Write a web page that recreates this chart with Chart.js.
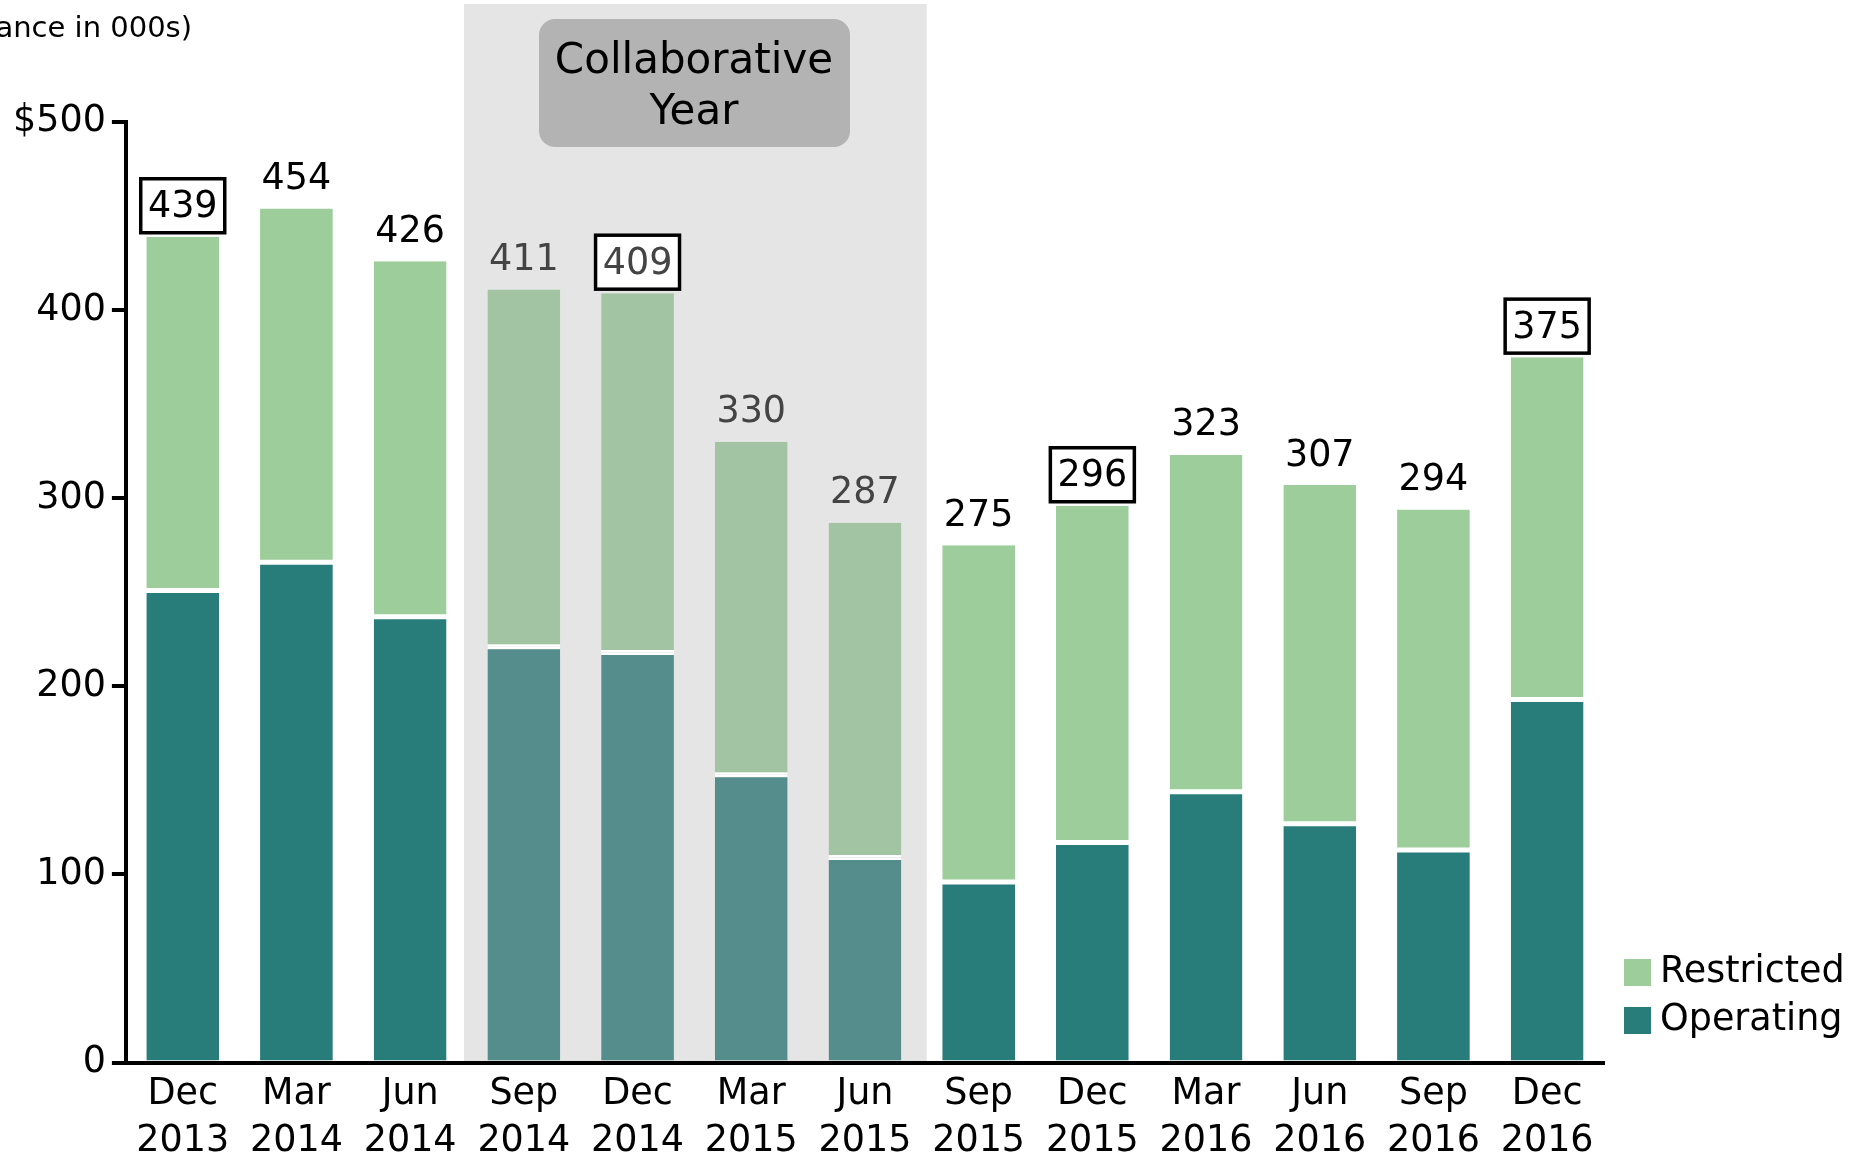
<!DOCTYPE html>
<html>
<head>
<meta charset="utf-8">
<title>Balance by quarter</title>
<script src="https://cdn.jsdelivr.net/npm/chart.js@4"></script>
<style>
  html, body { margin:0; padding:0; background:#fff; }
  #wrap { position:relative; width:1851px; height:1154px; }
</style>
</head>
<body>
<div id="wrap"><canvas id="chart" width="1851" height="1154"></canvas></div>
<script>
// ---- data (000s) ----
const quarters   = [['Dec','2013'],['Mar','2014'],['Jun','2014'],['Sep','2014'],['Dec','2014'],['Mar','2015'],
                    ['Jun','2015'],['Sep','2015'],['Dec','2015'],['Mar','2016'],['Jun','2016'],['Sep','2016'],['Dec','2016']];
const operating  = [251, 266, 237, 221, 218, 153, 109,  96, 117, 144, 127, 113, 193];
const restricted = [188, 188, 189, 190, 191, 177, 178, 179, 179, 179, 180, 181, 182];
const totals     = [439, 454, 426, 411, 409, 330, 287, 275, 296, 323, 307, 294, 375];
const boxedIdx   = [0, 4, 8, 12];
const collabIdx  = [3, 4, 5, 6];
const yTicks     = [0, 100, 200, 300, 400, 500];

const FONT = 'DejaVu Sans';
const FS = 36.5;
const COLORS = {
  operating:'#287d7b', restricted:'#9ccd9a',
  operatingFaded:'#548d8c', restrictedFaded:'#a3c4a3',
  shade:'#e5e5e5', collabBox:'#b3b3b3'
};

const inCollab = i => collabIdx.includes(i);

// shaded "Collaborative Year" band, title, value labels and legend
const decor = {
  id:'decor',
  beforeDraw(chart) {
    const { ctx, chartArea, scales:{ x } } = chart;
    const step = x.getPixelForValue(1) - x.getPixelForValue(0);
    const x0 = x.getPixelForValue(collabIdx[0]) - step/2 - 3;
    const x1 = x.getPixelForValue(collabIdx[collabIdx.length-1]) + step/2 + 5;
    ctx.save();
    ctx.fillStyle = COLORS.shade;
    ctx.fillRect(x0, 4, x1 - x0, chartArea.bottom - 4);

    // rounded label box
    ctx.fillStyle = COLORS.collabBox;
    ctx.beginPath();
    ctx.roundRect(539, 19, 311, 128, 16);
    ctx.fill();
    ctx.fillStyle = '#000';
    ctx.font = `42px "${FONT}"`;
    ctx.textAlign = 'center';
    ctx.textBaseline = 'middle';
    ctx.fillText('Collaborative', 694, 62);
    ctx.fillText('Year', 694, 113);

    // axis title, cut at the left edge
    ctx.font = `29px "${FONT}"`;
    ctx.textAlign = 'right';
    ctx.textBaseline = 'alphabetic';
    ctx.fillText('(Fund balance in 000s)', 192, 37);
    ctx.restore();
  },
  afterDatasetsDraw(chart) {
    const { ctx, scales:{ x, y } } = chart;
    ctx.save();
    ctx.font = `${FS}px "${FONT}"`;
    ctx.textAlign = 'center';
    ctx.textBaseline = 'middle';
    totals.forEach((t, i) => {
      const px = x.getPixelForValue(i);
      const py = y.getPixelForValue(t) - 30;
      if (boxedIdx.includes(i)) {
        ctx.fillStyle = '#fff';
        ctx.fillRect(px - 44, py - 30, 88, 58);
        ctx.lineWidth = 3.5;
        ctx.strokeStyle = '#000';
        ctx.strokeRect(px - 42, py - 28, 84, 54);
      }
      ctx.fillStyle = inCollab(i) ? '#444' : '#000';
      ctx.fillText(String(t), px, py + 1);
    });

    // legend
    const items = [
      { label:'Restricted', color:COLORS.restricted, y:972 },
      { label:'Operating',  color:COLORS.operating,  y:1020 }
    ];
    ctx.textAlign = 'left';
    items.forEach(it => {
      ctx.fillStyle = it.color;
      ctx.fillRect(1624, it.y - 13, 27, 27);
      ctx.fillStyle = '#000';
      ctx.fillText(it.label, 1660, it.y + 1);
    });
    ctx.restore();
  }
};

new Chart(document.getElementById('chart').getContext('2d'), {
  type:'bar',
  data:{
    labels: quarters,
    datasets:[
      { label:'Operating', data:operating,
        backgroundColor: operating.map((_, i) => inCollab(i) ? COLORS.operatingFaded : COLORS.operating),
        borderColor:'#fff', borderWidth:{ top:2.5, left:0, right:0, bottom:0 }, borderSkipped:false },
      { label:'Restricted', data:restricted,
        backgroundColor: restricted.map((_, i) => inCollab(i) ? COLORS.restrictedFaded : COLORS.restricted),
        borderColor:'#fff', borderWidth:{ top:0, left:0, right:0, bottom:2.5 }, borderSkipped:false }
    ]
  },
  options:{
    responsive:false,
    animation:false,
    datasets:{ bar:{ categoryPercentage:1, barPercentage:0.64 } },
    layout:{ padding:{ top:122, right:247, left:7, bottom:-12 } },
    plugins:{ legend:{ display:false }, tooltip:{ enabled:false } },
    scales:{
      x:{
        stacked:true,
        grid:{ display:false },
        border:{ display:true, color:'#000', width:4 },
        ticks:{ color:'#000', padding:1, font:{ family:FONT, size:FS, lineHeight:1.28 }, maxRotation:0, autoSkip:false }
      },
      y:{
        stacked:true, min:0, max:500,
        afterBuildTicks: axis => { axis.ticks = yTicks.map(v => ({ value:v })); },
        grid:{ drawOnChartArea:false, drawTicks:true, tickLength:14, color:'#000', lineWidth:4 },
        border:{ display:true, color:'#000', width:4 },
        ticks:{ color:'#000', padding:6, font:{ family:FONT, size:FS },
          callback: v => v === 500 ? '$500' : String(v) }
      }
    }
  },
  plugins:[decor]
});
</script>
</body>
</html>
